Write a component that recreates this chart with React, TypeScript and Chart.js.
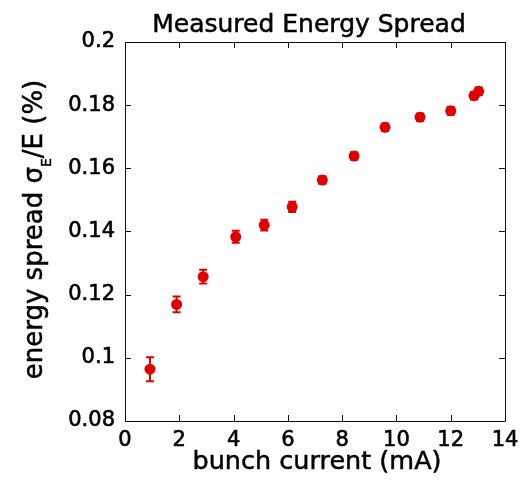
import React, { useEffect, useRef } from "react";
import { Chart, registerables } from "chart.js";

Chart.register(...registerables);

const currents = [0.92, 1.9, 2.88, 4.08, 5.13, 6.16, 7.27, 8.44, 9.58, 10.87, 12.0, 12.86, 13.03];
const spreads = [0.0964, 0.1169, 0.1257, 0.1383, 0.142, 0.1478, 0.1563, 0.1639, 0.173, 0.1762, 0.1782, 0.183, 0.1844];
const errors = [0.0038, 0.0025, 0.0022, 0.0019, 0.0017, 0.0016, 0.0012, 0.0012, 0.0012, 0.0012, 0.0012, 0.0012, 0.0012];
const xRange = [0, 14];
const yRange = [0.08, 0.2];
const xStep = 2;
const yStep = 0.02;
const titleText = "Measured Energy Spread";
const xTitle = "bunch current (mA)";
const yTitleMain = "energy spread σ";
const yTitleSub = "E";
const yTitleTail = "/E (%)";

const RED = "#e00000";
const FONT = "'DejaVu Sans', sans-serif";

function heavyText(ctx: any, text: string, x: number, y: number, sw: number) {
  ctx.fillText(text, x, y);
  ctx.lineWidth = sw;
  ctx.strokeStyle = "#000";
  ctx.strokeText(text, x, y);
}

const errorBarPlugin = {
  id: "errorBars",
  beforeDatasetsDraw(chart: any) {
    const { ctx, scales } = chart;
    const xs = scales.x;
    const ys = scales.y;
    ctx.save();
    ctx.strokeStyle = RED;
    ctx.lineWidth = 2;
    for (let i = 0; i < currents.length; i++) {
      const px = xs.getPixelForValue(currents[i]);
      const top = ys.getPixelForValue(spreads[i] + errors[i]);
      const bot = ys.getPixelForValue(spreads[i] - errors[i]);
      ctx.beginPath();
      ctx.moveTo(px, top);
      ctx.lineTo(px, bot);
      ctx.moveTo(px - 4, top);
      ctx.lineTo(px + 4, top);
      ctx.moveTo(px - 4, bot);
      ctx.lineTo(px + 4, bot);
      ctx.stroke();
    }
    ctx.restore();
  },
};

const framePlugin = {
  id: "frame",
  afterDraw(chart: any) {
    const { ctx, chartArea, scales } = chart;
    const { left, right, top, bottom } = chartArea;
    const tl = 6;
    ctx.save();
    ctx.strokeStyle = "#111";
    ctx.lineWidth = 1;
    ctx.beginPath();
    ctx.rect(Math.round(left) + 0.5, Math.round(top) + 0.5, Math.round(right - left), Math.round(bottom - top));
    ctx.stroke();
    ctx.beginPath();
    scales.x.ticks.forEach((t: any) => {
      const px = Math.round(scales.x.getPixelForValue(t.value)) + 0.5;
      ctx.moveTo(px, bottom);
      ctx.lineTo(px, bottom - tl);
      ctx.moveTo(px, top);
      ctx.lineTo(px, top + tl);
    });
    scales.y.ticks.forEach((t: any) => {
      const py = Math.round(scales.y.getPixelForValue(t.value)) + 0.5;
      ctx.moveTo(left, py);
      ctx.lineTo(left + tl, py);
      ctx.moveTo(right, py);
      ctx.lineTo(right - tl, py);
    });
    ctx.stroke();

    ctx.fillStyle = "#000";
    // main title
    ctx.font = `25px ${FONT}`;
    ctx.textAlign = "center";
    ctx.textBaseline = "alphabetic";
    heavyText(ctx, titleText, (left + right) / 2 - 6, 32, 0.5);
    // x title
    ctx.font = `25.5px ${FONT}`;
    heavyText(ctx, xTitle, (left + right) / 2 + 2, 469, 0.5);

    // y-axis title with subscript
    const mainFont = `26px ${FONT}`;
    const subFont = `14px ${FONT}`;
    ctx.font = mainFont;
    const w1 = ctx.measureText(yTitleMain).width;
    const w3 = ctx.measureText(yTitleTail).width;
    ctx.font = subFont;
    const w2 = ctx.measureText(yTitleSub).width;
    const total = w1 + w2 + w3;
    const cy = (top + bottom) / 2;
    ctx.translate(42, cy - 2);
    ctx.rotate(-Math.PI / 2);
    ctx.textAlign = "left";
    let x0 = -total / 2;
    ctx.font = mainFont;
    heavyText(ctx, yTitleMain, x0, 0, 0.5);
    x0 += w1;
    ctx.font = subFont;
    heavyText(ctx, yTitleSub, x0, 9, 0.4);
    x0 += w2;
    ctx.font = mainFont;
    heavyText(ctx, yTitleTail, x0, 0, 0.5);
    ctx.restore();
  },
};

export default function App() {
  const ref = useRef<HTMLCanvasElement>(null);
  useEffect(() => {
    if (!ref.current) return;
    const fmt = (v: any) => String(Number(Number(v).toFixed(2)));
    const chart = new Chart(ref.current, {
      type: "scatter",
      data: {
        datasets: [
          {
            data: currents.map((c, i) => ({ x: c, y: spreads[i] })),
            backgroundColor: RED,
            borderColor: RED,
            borderWidth: 0,
            pointRadius: 5.5,
          },
        ],
      },
      options: {
        animation: false,
        responsive: false,
        devicePixelRatio: 1,
        layout: { padding: { top: 42, left: 0, right: 26, bottom: 0 } },
        plugins: {
          legend: { display: false },
          tooltip: { enabled: false },
          title: { display: false },
        },
        scales: {
          x: {
            type: "linear",
            min: xRange[0],
            max: xRange[1],
            grid: { display: false, drawTicks: false },
            border: { display: false },
            ticks: {
              stepSize: xStep,
              color: "#000",
              padding: 7,
              font: { family: FONT, size: 21 },
              textStrokeColor: "#000",
              textStrokeWidth: 0.6,
              maxRotation: 0,
              callback: fmt,
            },
            afterFit(scale: any) {
              scale.height = 68;
            },
          },
          y: {
            type: "linear",
            min: yRange[0],
            max: yRange[1],
            grid: { display: false, drawTicks: false },
            border: { display: false },
            ticks: {
              stepSize: yStep,
              color: "#000",
              padding: 10,
              font: { family: FONT, size: 21 },
              textStrokeColor: "#000",
              textStrokeWidth: 0.6,
              callback: fmt,
            },
            afterFit(scale: any) {
              scale.width = 125;
            },
          },
        },
      },
      plugins: [errorBarPlugin, framePlugin],
    } as any);
    return () => chart.destroy();
  }, []);
  return (
    <canvas
      ref={ref}
      width={531}
      height={489}
      style={{ position: "fixed", left: 0, top: 0, width: 531, height: 489, background: "#fff" }}
    />
  );
}
